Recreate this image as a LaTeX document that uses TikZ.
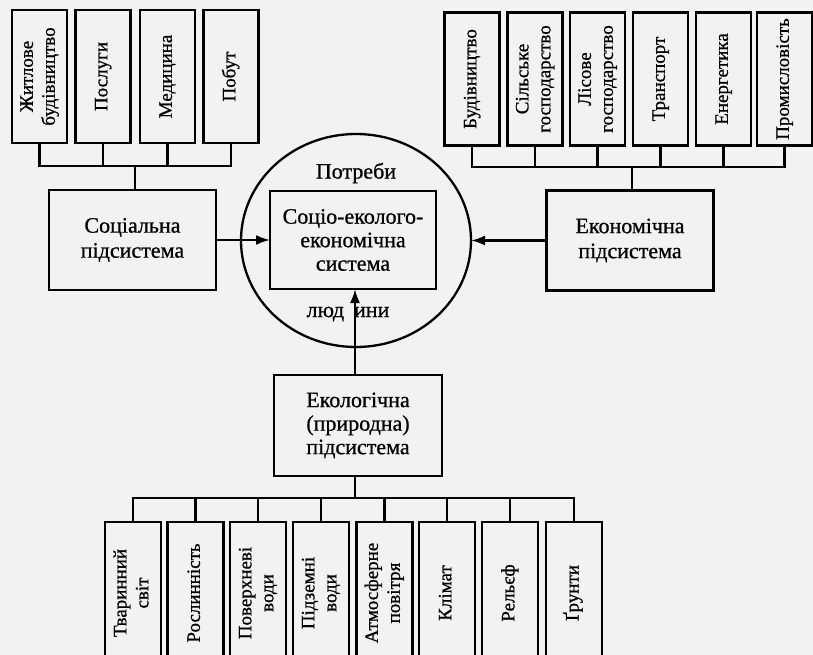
\documentclass[tikz,border=0pt]{standalone}
\usepackage{fontspec}
\setmainfont{Liberation Serif}
\newfontfamily\diagfont{Liberation Serif}[FakeBold=0.8]
\usetikzlibrary{arrows.meta,shapes.geometric}

% vertical (rotated) label for the narrow boxes
\newcommand{\vlabel}[1]{\rotatebox{90}{\fontsize{19}{22}\selectfont\begin{tabular}{@{}c@{}}#1\end{tabular}}}

\begin{document}
\begin{tikzpicture}[x=1pt,y=-1pt,
  every node/.style={font=\diagfont\fontsize{22}{23.5}\selectfont},
  frame/.style={draw, line width=2.3pt, rectangle, inner sep=0pt, outer sep=0pt, align=center},
  topbox/.style={frame, minimum width=55pt, minimum height=133pt},
  botbox/.style={frame, minimum width=56pt, minimum height=142pt},
  bigbox/.style={frame, minimum width=167pt, minimum height=100pt},
  link/.style={line width=2.3pt},
  flow/.style={line width=2.3pt, -{Latex[length=14pt,width=10pt]}},
]
\useasboundingbox (0,0) rectangle (813,655);
\fill[black!5] (0,0) rectangle (813,655);
\clip (0,0) rectangle (813,655);

% ---- social branches (top left)
\node[topbox] (zhytlo)    at (39.5,76.5)  {\vlabel{Житлове\\будівництво}};
\node[topbox] (posluhy)   at (103,76.5)   {\vlabel{Послуги}};
\node[topbox] (medytsyna) at (167.5,76.5) {\vlabel{Медицина}};
\node[topbox] (pobut)     at (231,76.5)   {\vlabel{Побут}};

% ---- economic branches (top right)
\node[topbox] (budivn)  at (472,79)   {\vlabel{Будівництво}};
\node[topbox] (silske)  at (535,79)   {\vlabel{Сільське\\господарство}};
\node[topbox] (lisove)  at (597.5,79) {\vlabel{Лісове\\господарство}};
\node[topbox] (transp)  at (660.5,79) {\vlabel{Транспорт}};
\node[topbox] (energ)   at (723.5,79) {\vlabel{Енергетика}};
\node[topbox] (promysl) at (784.5,79) {\vlabel{Промисловість}};

% ---- subsystems
\node[bigbox] (social) at (132.5,240) {Соціальна\\[1.5pt]підсистема};
\node[bigbox] (econ)   at (630,240.5) {Економічна\\[1.5pt]підсистема};
\node[bigbox, minimum width=168pt, minimum height=101pt] (eco) at (358,425.5)
  {Екологічна\\(природна)\\підсистема};

% ---- central system
\node[draw, ellipse, line width=2.3pt, inner sep=0pt, outer sep=0pt,
      minimum width=230pt, minimum height=213pt] (ring) at (356,240.5) {};
\node[bigbox, minimum width=166pt, minimum height=98pt] (core) at (353,240)
  {Соціо-еколого-\\економічна\\система};
\node (needs)  at (356,173) {Потреби};
\node (people) at (348,314) {люд\hspace{10pt}ини};

% ---- natural components (bottom)
\node[botbox] (tvaryn)  at (133,593)   {\vlabel{Тваринний\\світ}};
\node[botbox] (roslyn)  at (195.5,593) {\vlabel{Рослинність}};
\node[botbox] (poverkh) at (258,593)   {\vlabel{Поверхневі\\води}};
\node[botbox] (pidzem)  at (321,593)   {\vlabel{Підземні\\води}};
\node[botbox] (atmos)   at (384.5,593) {\vlabel{Атмосферне\\повітря}};
\node[botbox] (klimat)  at (447,593)   {\vlabel{Клімат}};
\node[botbox] (relief)  at (510,593)   {\vlabel{Рельєф}};
\node[botbox] (grunty)  at (574,593)   {\vlabel{Ґрунти}};

% ---- bus junctions
\coordinate (lbus) at (135,166);
\coordinate (rbus) at (632,167);
\coordinate (bbus) at (355,498);
\coordinate (upx)  at (355,0);

% top-left tree
\draw[link] (zhytlo.south) -- (zhytlo.south |- lbus) -- (pobut.south |- lbus) -- (pobut.south);
\draw[link] (posluhy.south) -- (posluhy.south |- lbus);
\draw[link] (medytsyna.south) -- (medytsyna.south |- lbus);
\draw[link] (lbus) -- (lbus |- social.north);

% top-right tree
\draw[link] (budivn.south) -- (budivn.south |- rbus) -- (promysl.south |- rbus) -- (promysl.south);
\foreach \b in {silske,lisove,transp,energ}
  \draw[link] (\b.south) -- (\b.south |- rbus);
\draw[link] (rbus) -- (rbus |- econ.north);

% bottom tree
\draw[link] (bbus |- eco.south) -- (bbus);
\draw[link] (tvaryn.north) -- (tvaryn.north |- bbus) -- (grunty.north |- bbus) -- (grunty.north);
\foreach \b in {roslyn,poverkh,pidzem,atmos,klimat,relief}
  \draw[link] (\b.north) -- (\b.north |- bbus);

% flows into the system
\draw[flow] (social.east) -- (core.west);
\draw[flow] (econ.west) -- (ring.east);
\draw[flow] (eco.north -| upx) -- (core.south -| upx);
\end{tikzpicture}
\end{document}
